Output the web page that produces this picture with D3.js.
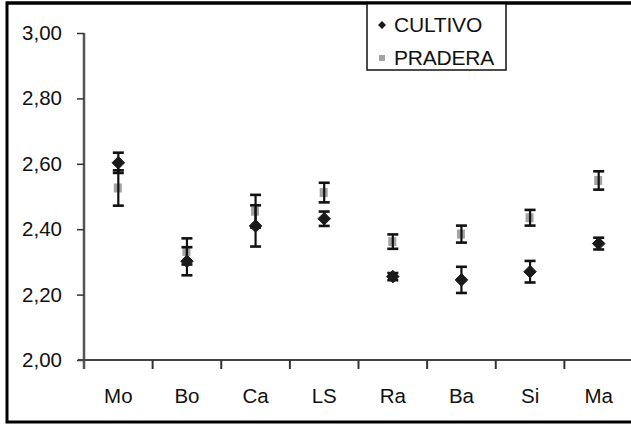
<!DOCTYPE html>
<html>
<head>
  <meta charset="UTF-8">
  <style>
    body { margin: 0; background: #fff; }
    text { font-family: "Liberation Sans", Arial, sans-serif; fill: #111; }
  </style>
</head>
<body>
<script src="https://d3js.org/d3.v7.min.js"></script>
<div id="chart"></div>
<script>

// data
var categories = ["Mo", "Bo", "Ca", "LS", "Ra", "Ba", "Si", "Ma"];
var cultivo    = [2.603, 2.302, 2.410, 2.432, 2.255, 2.245, 2.270, 2.356];
var cultivoErr = [0.031, 0.043, 0.063, 0.022, 0.011, 0.040, 0.033, 0.018];
var pradera    = [2.526, 2.332, 2.455, 2.512, 2.362, 2.385, 2.435, 2.549];
var praderaErr = [0.054, 0.040, 0.050, 0.030, 0.022, 0.026, 0.024, 0.028];
var yTicks = [2.0, 2.2, 2.4, 2.6, 2.8, 3.0];
var seriesNames = ["CULTIVO", "PRADERA"];

var W = 631, H = 425;
var svg = d3.select("#chart").append("svg")
  .attr("width", W)
  .attr("height", H);

// outer frame
svg.append("rect")
  .attr("x", 7).attr("y", 3)
  .attr("width", W + 10).attr("height", 419)
  .attr("fill", "#fff")
  .attr("stroke", "#000")
  .attr("stroke-width", 3);

var x = d3.scaleBand().domain(categories).range([84, 633]);
var y = d3.scaleLinear().domain([2, 3]).range([360, 33]);

var fmt = function(d) { return d.toFixed(2).replace(".", ","); };

// y axis
var yAxis = svg.append("g")
  .attr("transform", "translate(84,0)")
  .call(d3.axisLeft(y).tickValues(yTicks).tickFormat(fmt).tickSize(7).tickPadding(15));
yAxis.select(".domain").attr("stroke", "#555").attr("stroke-width", 2.5)
  .attr("d", "M0," + y(3) + "V369");
yAxis.selectAll(".tick line").attr("stroke", "#333").attr("stroke-width", 1.5);
yAxis.selectAll(".tick text")
  .style("font-size", "20.5px")
  .attr("fill", "#111")
  .attr("font-family", "Liberation Sans, Arial, sans-serif");

// x axis (labels centred, tick marks between categories)
var xAxis = svg.append("g")
  .attr("transform", "translate(0,360)")
  .call(d3.axisBottom(x).tickSize(0).tickPadding(28));
xAxis.select(".domain").attr("stroke", "#444").attr("stroke-width", 2)
  .attr("d", "M78,0H" + W);
xAxis.selectAll(".tick text")
  .style("font-size", "20.5px")
  .attr("fill", "#111")
  .attr("font-family", "Liberation Sans, Arial, sans-serif");
svg.append("g").selectAll("line")
  .data(categories.slice(1))
  .enter().append("line")
    .attr("x1", function(d) { return x(d); })
    .attr("x2", function(d) { return x(d); })
    .attr("y1", 360).attr("y2", 369)
    .attr("stroke", "#333").attr("stroke-width", 2);

var cx = function(i) { return x(categories[i]) + x.bandwidth() / 2; };

// pradera markers (under the error bars)
svg.append("g").selectAll("rect")
  .data(pradera)
  .enter().append("rect")
    .attr("x", function(d, i) { return cx(i) - 4.5; })
    .attr("y", function(d) { return y(d) - 4.5; })
    .attr("width", 8).attr("height", 9)
    .attr("fill", "#a3a3a3");

// error bars
function errorBars(vals, errs) {
  var g = svg.append("g").attr("stroke", "#111").attr("stroke-width", 2.2);
  vals.forEach(function(v, i) {
    var top = y(v + errs[i]), bot = y(v - errs[i]), c = cx(i);
    g.append("line").attr("x1", c).attr("x2", c).attr("y1", top).attr("y2", bot);
    g.append("line").attr("x1", c - 5.5).attr("x2", c + 5.5).attr("y1", top).attr("y2", top).attr("stroke-width", 2.6);
    g.append("line").attr("x1", c - 5.5).attr("x2", c + 5.5).attr("y1", bot).attr("y2", bot).attr("stroke-width", 2.6);
  });
}
errorBars(pradera, praderaErr);
errorBars(cultivo, cultivoErr);

// cultivo diamonds
var diamond = d3.symbol().type(d3.symbolDiamond2).size(100);
svg.append("g").selectAll("path")
  .data(cultivo)
  .enter().append("path")
    .attr("d", diamond)
    .attr("transform", function(d, i) { return "translate(" + cx(i) + "," + y(d) + ")"; })
    .attr("fill", "#1a1a1a")
    .attr("stroke", "#1a1a1a")
    .attr("stroke-linejoin", "round")
    .attr("stroke-width", 1);

// legend
var lg = svg.append("g");
lg.append("rect")
  .attr("x", 367).attr("y", 3)
  .attr("width", 139).attr("height", 67)
  .attr("fill", "#fff")
  .attr("stroke", "#111").attr("stroke-width", 1.5);
lg.append("path")
  .attr("d", d3.symbol().type(d3.symbolDiamond2).size(40))
  .attr("transform", "translate(382,25)")
  .attr("fill", "#1a1a1a");
lg.append("rect")
  .attr("x", 379).attr("y", 55)
  .attr("width", 6).attr("height", 6)
  .attr("fill", "#a3a3a3");
lg.selectAll("text.lab")
  .data(seriesNames)
  .enter().append("text")
    .attr("x", 394)
    .attr("y", function(d, i) { return 25 + i * 33; })
    .attr("dy", "0.35em")
    .style("font-size", "21px")
    .style("letter-spacing", "-0.2px")
    .text(function(d) { return d; });
// top frame line sits over the legend box
svg.append("line")
  .attr("x1", 6).attr("x2", W).attr("y1", 3).attr("y2", 3)
  .attr("stroke", "#000").attr("stroke-width", 3);

</script>
</body>
</html>
